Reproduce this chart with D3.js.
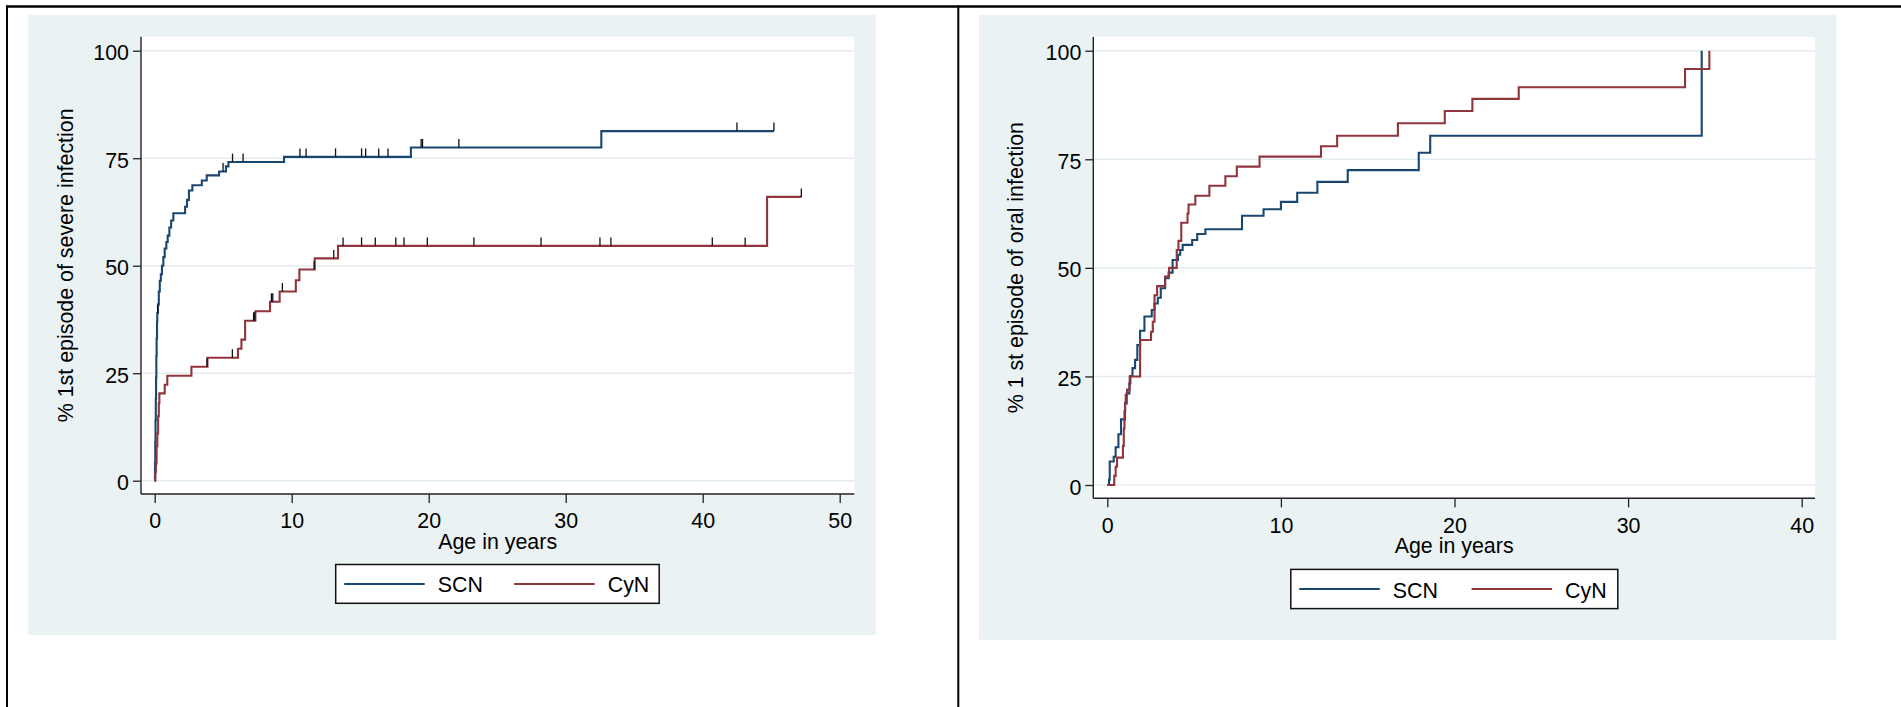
<!DOCTYPE html>
<html>
<head>
<meta charset="utf-8">
<script src="https://cdn.jsdelivr.net/npm/d3@7"></script>
<style>
  html, body { margin: 0; padding: 0; background: #ffffff; }
  svg { display: block; }
  text { font-family: "Liberation Sans", Arial, Helvetica, sans-serif; fill: #000; }
</style>
</head>
<body>
<svg id="chart" width="1901" height="707"></svg>
<script>
// ---------------- DATA ----------------
const yTicks = [0, 25, 50, 75, 100];
const xTicks1 = [0, 10, 20, 30, 40, 50];
const xTicks2 = [0, 10, 20, 30, 40];
const seriesNames = ["SCN", "CyN"];
const yTitle1 = "% 1st episode of severe infection";
const yTitle2 = "% 1 st episode of oral infection";
const xTitle = "Age in years";

// Panel 1: severe infection (Kaplan-Meier failure, %)
const scn1Time = [0, 0.02, 0.04, 0.06, 0.08, 0.10, 0.12, 0.14, 0.17, 0.19, 0.24, 0.30, 0.37, 0.45, 0.53, 0.63, 0.73, 0.85, 0.95, 1.07, 1.20, 1.36, 2.22, 2.36, 2.50, 2.75, 3.44, 3.80, 4.70, 5.20, 5.38, 9.44, 18.7, 32.6, 45.2];
const scn1Pct  = [0, 4, 9, 14, 19, 24, 29, 33, 37, 39, 41, 44, 46.5, 48, 50, 52, 54, 55.5, 57, 58.9, 60.5, 62.2, 63.7, 65.3, 67.5, 68.7, 69.8, 71.0, 71.9, 73.1, 74.1, 75.3, 77.5, 81.3, 81.3];
const scn1Censor = [0.22, 4.99, 5.68, 6.45, 10.6, 11.05, 13.2, 15.1, 15.4, 16.35, 17.03, 19.45, 19.55, 22.2, 42.5, 45.2];

const cyn1Time = [0, 0.05, 0.09, 0.14, 0.19, 0.25, 0.30, 0.34, 0.73, 0.92, 2.68, 3.85, 6.08, 6.33, 6.60, 7.35, 8.42, 9.12, 10.3, 10.56, 11.68, 13.38, 44.7, 47.2];
const cyn1Pct  = [0, 2, 4, 8, 11, 15, 18, 20.3, 22.3, 24.4, 26.5, 28.6, 30.7, 32.8, 37.2, 39.4, 41.6, 44.0, 46.6, 49.1, 51.7, 54.6, 66.0, 66.0];
const cyn1Censor = [3.82, 5.67, 7.22, 7.30, 8.52, 8.62, 9.32, 11.64, 13.07, 13.75, 15.1, 16.1, 17.6, 18.2, 19.9, 23.3, 28.2, 32.5, 33.3, 40.7, 43.1, 47.2];

// Panel 2: oral infection
const scn2Time = [0, 0.10, 0.14, 0.37, 0.48, 0.64, 0.79, 1.02, 1.12, 1.27, 1.33, 1.45, 1.60, 1.73, 1.89, 2.14, 2.56, 2.72, 2.91, 3.08, 3.33, 3.53, 3.76, 4.07, 4.20, 4.34, 4.89, 5.18, 5.65, 7.76, 9.0, 10.0, 10.94, 12.1, 13.85, 17.94, 18.6, 34.24];
const scn2Pct  = [0, 1.2, 5.4, 6.5, 8.7, 11.7, 15.1, 18.8, 21.1, 23.4, 25.1, 26.9, 28.8, 32.2, 35.5, 38.8, 40.3, 41.8, 43.1, 45.3, 47.6, 48.9, 51.8, 53.0, 54.1, 55.3, 56.4, 57.8, 58.9, 62.0, 63.5, 65.2, 67.3, 69.8, 72.5, 76.5, 80.4, 100];

const cyn2Time = [0, 0.40, 0.48, 0.56, 0.90, 0.95, 0.99, 1.03, 1.06, 1.14, 1.29, 1.89, 2.52, 2.62, 2.72, 2.87, 3.33, 3.56, 4.00, 4.10, 4.26, 4.62, 4.68, 5.07, 5.88, 6.80, 7.46, 8.77, 12.31, 13.24, 16.74, 19.44, 21.03, 23.7, 33.28, 34.68];
const cyn2Pct  = [0, 2.1, 4.2, 6.3, 9, 13, 17, 19, 20.7, 22, 25, 33.4, 35.3, 37.6, 43.7, 45.8, 48.0, 50.0, 54.1, 56.2, 60.4, 62.5, 64.6, 66.6, 68.9, 71.1, 73.3, 75.6, 78.0, 80.4, 83.3, 86.1, 88.9, 91.6, 95.8, 100];

// ---------------- STYLE ----------------
const COL_SCN = "#1a476f";
const COL_CYN = "#90353b";
const COL_BG = "#eaf2f3";
const COL_GRID = "#e3ecee";
const FS = 21.4;

const svg = d3.select("#chart");

// frame lines (table-like borders)
svg.append("line").attr("x1", 6).attr("x2", 1901).attr("y1", 6.5).attr("y2", 6.5)
  .attr("stroke", "#000").attr("stroke-width", 2.5);
svg.append("line").attr("x1", 7).attr("x2", 7).attr("y1", 5.5).attr("y2", 707)
  .attr("stroke", "#000").attr("stroke-width", 2);
svg.append("line").attr("x1", 958.3).attr("x2", 958.3).attr("y1", 5.5).attr("y2", 707)
  .attr("stroke", "#000").attr("stroke-width", 2);

function zipSeries(t, p) { return t.map((d, i) => ({ t: d, p: p[i] })); }
function levelAt(t, times, pcts) {
  let v = pcts[0];
  for (let i = 0; i < times.length; i++) { if (times[i] <= t) v = pcts[i]; }
  return v;
}

function drawPanel(cfg) {
  const g = svg.append("g");
  // graph region
  g.append("rect").attr("x", cfg.bg[0]).attr("y", cfg.bg[1])
    .attr("width", cfg.bg[2] - cfg.bg[0]).attr("height", cfg.bg[3] - cfg.bg[1])
    .attr("fill", COL_BG);
  // plot region
  const L = cfg.plot[0], T = cfg.plot[1], R = cfg.plot[2], B = cfg.plot[3];
  g.append("rect").attr("x", L).attr("y", T).attr("width", R - L).attr("height", B - T)
    .attr("fill", "#fff");

  const x = d3.scaleLinear().domain([0, cfg.xMax]).range(cfg.xRange);
  const y = d3.scaleLinear().domain([0, 100]).range(cfg.yRange);

  // gridlines
  g.append("g").selectAll("line").data(yTicks).join("line")
    .attr("x1", L + 1).attr("x2", R).attr("y1", d => y(d)).attr("y2", d => y(d))
    .attr("stroke", COL_GRID).attr("stroke-width", 1.6);

  // y axis
  const yAxis = d3.axisLeft(y).tickValues(yTicks).tickSize(8).tickPadding(4);
  const ya = g.append("g").attr("transform", `translate(${L},0)`).call(yAxis);
  ya.select(".domain").remove();
  ya.selectAll(".tick line").attr("stroke", "#222").attr("stroke-width", 1.3);
  ya.selectAll(".tick text").attr("font-size", FS).attr("fill", "#000")
    .attr("font-family", '"Liberation Sans", Arial, sans-serif').attr("dy", "0.42em");
  g.append("line").attr("x1", L).attr("x2", L).attr("y1", T).attr("y2", B)
    .attr("stroke", "#222").attr("stroke-width", 1.4);

  // x axis
  const xAxis = d3.axisBottom(x).tickValues(cfg.xTicks).tickSize(9).tickPadding(6);
  const xa = g.append("g").attr("transform", `translate(0,${B})`).call(xAxis);
  xa.select(".domain").remove();
  xa.selectAll(".tick line").attr("stroke", "#222").attr("stroke-width", 1.3);
  xa.selectAll(".tick text").attr("font-size", FS).attr("fill", "#000")
    .attr("font-family", '"Liberation Sans", Arial, sans-serif').attr("dy", "0.9em");
  g.append("line").attr("x1", L).attr("x2", R).attr("y1", B).attr("y2", B)
    .attr("stroke", "#222").attr("stroke-width", 1.4);

  // titles
  g.append("text").attr("x", (L + R) / 2).attr("y", cfg.xTitleY)
    .attr("text-anchor", "middle").attr("font-size", FS).text(xTitle);
  g.append("text")
    .attr("transform", `translate(${cfg.yTitleX},${(T + B) / 2}) rotate(-90)`)
    .attr("text-anchor", "middle").attr("font-size", FS).text(cfg.yTitle);

  // curves
  const line = d3.line().x(d => x(d.t)).y(d => y(d.p)).curve(d3.curveStepAfter);
  cfg.series.forEach(s => {
    g.append("path").datum(zipSeries(s.time, s.pct))
      .attr("fill", "none").attr("stroke", s.color).attr("stroke-width", 2.1)
      .attr("stroke-linejoin", "miter").attr("d", line);
  });
  // censor marks
  cfg.series.forEach(s => {
    if (!s.censor) return;
    g.append("g").selectAll("line").data(s.censor).join("line")
      .attr("x1", d => x(d)).attr("x2", d => x(d))
      .attr("y1", d => y(levelAt(d, s.time, s.pct)))
      .attr("y2", d => y(levelAt(d, s.time, s.pct)) - 8.5)
      .attr("stroke", "#111").attr("stroke-width", 1.3);
  });

  // legend
  const lg = cfg.legend;
  g.append("rect").attr("x", lg.x).attr("y", lg.y).attr("width", lg.w).attr("height", lg.h)
    .attr("fill", "#fff").attr("stroke", "#111").attr("stroke-width", 1.5);
  const cy = lg.y + lg.h / 2;
  const items = [
    { name: seriesNames[0], color: COL_SCN, x0: lg.x + 8.5 },
    { name: seriesNames[1], color: COL_CYN, x0: lg.x + lg.gap }
  ];
  items.forEach(it => {
    g.append("line").attr("x1", it.x0).attr("x2", it.x0 + 80.5).attr("y1", cy).attr("y2", cy)
      .attr("stroke", it.color).attr("stroke-width", 2);
    g.append("text").attr("x", it.x0 + 93.5).attr("y", cy + 8.5).attr("font-size", FS).text(it.name);
  });
}

drawPanel({
  bg: [28, 15, 876, 635],
  plot: [141, 36.7, 854.3, 494],
  xMax: 50, xRange: [154.7, 839.7], yRange: [480.7, 50.7],
  xTicks: xTicks1,
  xTitleY: 548.5,
  yTitleX: 72.5,
  yTitle: yTitle1,
  series: [
    { time: scn1Time, pct: scn1Pct, color: COL_SCN, censor: scn1Censor },
    { time: cyn1Time, pct: cyn1Pct, color: COL_CYN, censor: cyn1Censor }
  ],
  legend: { x: 335.7, y: 564.5, w: 323.5, h: 38.8, gap: 178.5 }
});

drawPanel({
  bg: [979, 15, 1836.7, 639.7],
  plot: [1093.3, 37, 1815, 498.3],
  xMax: 40, xRange: [1107.3, 1801.7], yRange: [485, 50.7],
  xTicks: xTicks2,
  xTitleY: 553.2,
  yTitleX: 1023,
  yTitle: yTitle2,
  series: [
    { time: scn2Time, pct: scn2Pct, color: COL_SCN },
    { time: cyn2Time, pct: cyn2Pct, color: COL_CYN }
  ],
  legend: { x: 1290.8, y: 569.4, w: 327, h: 39.2, gap: 180.8 }
});
</script>
</body>
</html>
